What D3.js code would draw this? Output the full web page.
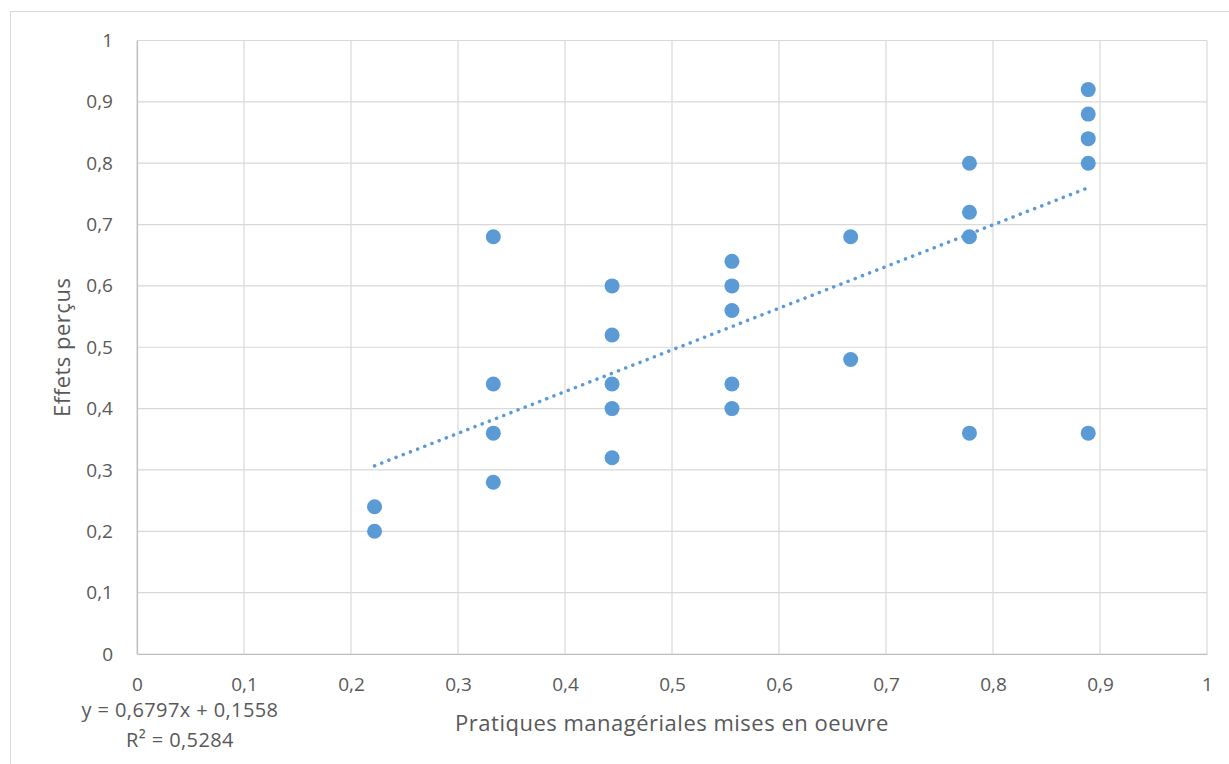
<!DOCTYPE html>
<html>
<head>
<meta charset="utf-8">
<script src="https://cdn.jsdelivr.net/npm/d3@7"></script>
<style>
  body { margin: 0; background: #fff; }
  svg text { font-family: "Open Sans", sans-serif; fill: #595959; }
</style>
</head>
<body>
<div id="chart"></div>
<script>
// x = pratiques managériales, y = effets perçus
const xValues = [0.222, 0.222,
  0.333, 0.333, 0.333, 0.333,
  0.444, 0.444, 0.444, 0.444, 0.444,
  0.556, 0.556, 0.556, 0.556, 0.556,
  0.667, 0.667,
  0.778, 0.778, 0.778, 0.778,
  0.889, 0.889, 0.889, 0.889, 0.889];
const yValues = [0.24, 0.20,
  0.68, 0.44, 0.36, 0.28,
  0.60, 0.52, 0.44, 0.40, 0.32,
  0.64, 0.60, 0.56, 0.44, 0.40,
  0.68, 0.48,
  0.80, 0.72, 0.68, 0.36,
  0.92, 0.88, 0.84, 0.80, 0.36];
const trendSlope = 0.6797;
const trendIntercept = 0.1558;
const xTicks = [0, 0.1, 0.2, 0.3, 0.4, 0.5, 0.6, 0.7, 0.8, 0.9, 1];
const yTicks = [0, 0.1, 0.2, 0.3, 0.4, 0.5, 0.6, 0.7, 0.8, 0.9, 1];
const equationLines = ["y = 0,6797x + 0,1558", "R² = 0,5284"];

const width = 1229, height = 764;
const margin = { top: 40.5, right: 22, bottom: 110, left: 137 };
const fmt = d => String(d).replace(".", ",");

const svg = d3.select("#chart").append("svg")
  .attr("width", width)
  .attr("height", height);

// chart frame
svg.append("rect")
  .attr("x", 10.5).attr("y", 11.5)
  .attr("width", width).attr("height", height)
  .attr("fill", "none")
  .attr("stroke", "#d9d9d9");

const x = d3.scaleLinear().domain([0, 1]).range([margin.left, width - margin.right]);
const y = d3.scaleLinear().domain([0, 1]).range([height - margin.bottom, margin.top]);

// gridlines
svg.append("g")
  .selectAll("line.v")
  .data(xTicks)
  .enter().append("line")
  .attr("x1", d => x(d)).attr("x2", d => x(d))
  .attr("y1", y(0)).attr("y2", y(1))
  .attr("stroke", "#d9d9d9").attr("stroke-width", 1.2);

svg.append("g")
  .selectAll("line.h")
  .data(yTicks)
  .enter().append("line")
  .attr("x1", x(0)).attr("x2", x(1))
  .attr("y1", d => y(d)).attr("y2", d => y(d))
  .attr("stroke", "#d9d9d9").attr("stroke-width", 1.2);

// axes
const xAxis = svg.append("g")
  .attr("transform", `translate(0,${y(0)})`)
  .call(d3.axisBottom(x).tickValues(xTicks).tickFormat(fmt).tickSize(0).tickPadding(24));
const yAxis = svg.append("g")
  .attr("transform", `translate(${x(0)},0)`)
  .call(d3.axisLeft(y).tickValues(yTicks).tickFormat(fmt).tickSize(0).tickPadding(24));
[xAxis, yAxis].forEach(g => {
  g.select(".domain").attr("stroke", "#bfbfbf").attr("stroke-width", 1.2);
  g.selectAll("text").attr("font-size", "19px").attr("fill", "#595959")
    .attr("font-family", "Open Sans, sans-serif");
});

// trendline over data range
const xMin = d3.min(xValues), xMax = d3.max(xValues);
svg.append("line")
  .attr("x1", x(xMin)).attr("y1", y(trendSlope * xMin + trendIntercept))
  .attr("x2", x(xMax)).attr("y2", y(trendSlope * xMax + trendIntercept))
  .attr("stroke", "#5b9bd5")
  .attr("stroke-width", 3.5)
  .attr("stroke-linecap", "round")
  .attr("stroke-dasharray", "0.1 7.6");

// points
svg.append("g")
  .selectAll("circle")
  .data(xValues.map((v, i) => ({ x: v, y: yValues[i] })))
  .enter().append("circle")
  .attr("cx", d => x(d.x))
  .attr("cy", d => y(d.y))
  .attr("r", 7.5)
  .attr("fill", "#5b9bd5");

// axis titles
svg.append("text")
  .attr("x", (x(0) + x(1)) / 2)
  .attr("y", 731)
  .attr("text-anchor", "middle")
  .attr("font-size", "22px")
  .attr("letter-spacing", "0.5px")
  .text("Pratiques managériales mises en oeuvre");

svg.append("text")
  .attr("transform", `translate(70,${(y(0) + y(1)) / 2}) rotate(-90)`)
  .attr("text-anchor", "middle")
  .attr("font-size", "22px")
  .attr("letter-spacing", "0.5px")
  .text("Effets perçus");

// regression equation
svg.append("g")
  .selectAll("text")
  .data(equationLines)
  .enter().append("text")
  .attr("x", 180)
  .attr("y", (d, i) => 717 + i * 30)
  .attr("text-anchor", "middle")
  .attr("font-size", "20px")
  .attr("letter-spacing", "0.4px")
  .text(d => d);
</script>
</body>
</html>
